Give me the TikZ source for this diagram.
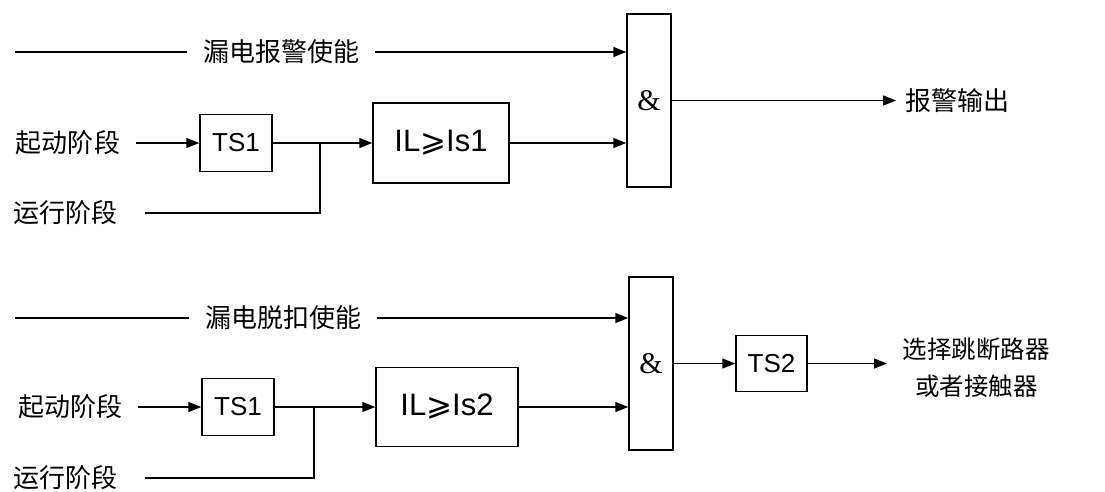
\documentclass[tikz,border=0pt]{standalone}
\usepackage{fontspec}
\setmainfont{Liberation Sans}
\newfontfamily\cjk{Noto Sans CJK SC}
\newfontfamily\serifA{Liberation Serif}
\newfontfamily\symf{DejaVu Sans}
\usetikzlibrary{arrows.meta}
\begin{document}
\begin{tikzpicture}[x=1pt,y=-1pt,line width=1.5pt,
  box/.style={draw,line width=1.5pt,inner sep=0pt,font=\fontsize{26}{30}\selectfont},
  ilbox/.style={box,font=\fontsize{31}{36}\selectfont},
  gate/.style={draw,line width=1.5pt,inner sep=0pt,minimum width=44pt,minimum height=173pt,font=\serifA\fontsize{30}{34}\selectfont},
  lbl/.style={font=\cjk\fontsize{26}{30}\selectfont,inner xsep=15pt,inner ysep=0pt},
  arr/.style={-{Triangle[length=13pt,width=10pt]}}]
\useasboundingbox (0,0) rectangle (1105,491);
% ---------- top section ----------
\coordinate (e1s) at (15,52);
\node[lbl] (en1) at (281,52) {漏电报警使能};
\node[gate] (and1) at (649,100.5) {\&};
\node[lbl] (st1) at (68,143) {起动阶段};
\node[lbl] (run1) at (65,213) {运行阶段};
\coordinate (r1s) at (145,213);
\node[box,minimum width=72pt,minimum height=57pt] (ts1a) at (236,143) {TS1};
\node[ilbox,minimum width=136pt,minimum height=80pt] (il1) at (441,143) {IL{\symf ⩾}Is1};
\coordinate (j1) at (320,143);
\node[lbl,anchor=west,inner xsep=9pt] (out1) at (896,100.5) {报警输出};
\draw (e1s) -- (en1.west);
\draw[arr] (en1.east) -- (en1 -| and1.west);
\draw[arr] (st1.east) -- (ts1a.west);
\draw[arr] (ts1a.east) -- (il1.west);
\draw (r1s) -| (j1);
\draw[arr] (il1.east) -- (il1 -| and1.west);
\draw[arr] (and1.east) -- (out1.west);
% ---------- bottom section ----------
\coordinate (e2s) at (15,318);
\node[lbl] (en2) at (283,318) {漏电脱扣使能};
\node[gate] (and2) at (651,363.5) {\&};
\node[lbl] (st2) at (70,407) {起动阶段};
\node[lbl] (run2) at (65,478) {运行阶段};
\coordinate (r2s) at (145,478);
\node[box,minimum width=72pt,minimum height=57pt] (ts1b) at (238,407) {TS1};
\node[ilbox,minimum width=142pt,minimum height=79pt] (il2) at (447,407) {IL{\symf ⩾}Is2};
\coordinate (j2) at (314,407);
\node[box,minimum width=71pt,minimum height=56pt] (ts2) at (771.5,363.5) {TS2};
\node[lbl,anchor=west,align=center,font=\cjk\fontsize{24.5}{37}\selectfont] (out2) at (887,368) {选择跳断路器\\或者接触器};
\draw (e2s) -- (en2.west);
\draw[arr] (en2.east) -- (en2 -| and2.west);
\draw[arr] (st2.east) -- (ts1b.west);
\draw[arr] (ts1b.east) -- (il2.west);
\draw (r2s) -| (j2);
\draw[arr] (il2.east) -- (il2 -| and2.west);
\draw[arr] (and2.east) -- (ts2.west);
\draw[arr] (ts2.east) -- (ts2.east -| out2.west);
\end{tikzpicture}
\end{document}
